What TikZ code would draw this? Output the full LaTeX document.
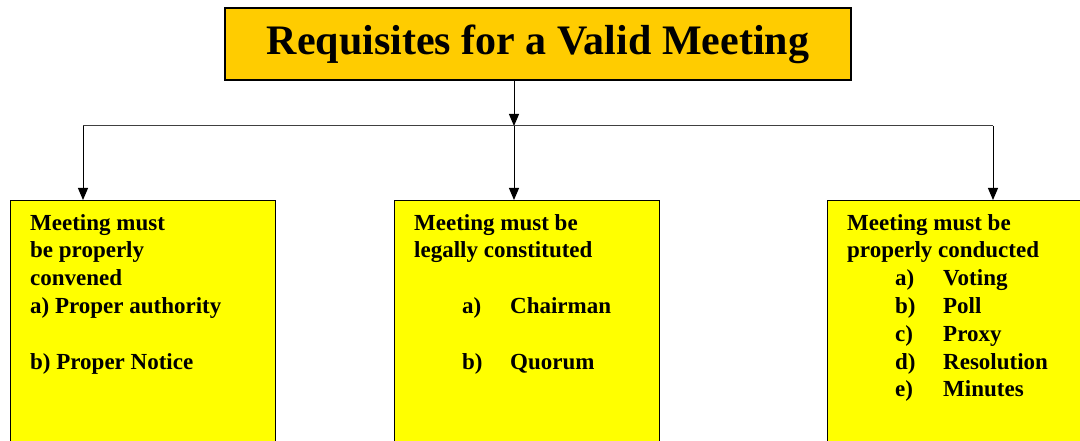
\documentclass[tikz,border=0pt]{standalone}
\usepackage{fontspec}
\setmainfont{Liberation Serif}
\usepackage{tikz}
\usetikzlibrary{positioning, arrows.meta}
\definecolor{titleGold}{HTML}{FFCC00}
\definecolor{boxYellow}{HTML}{FFFF00}
\newcommand{\mitem}[2]{\hspace*{48pt}\makebox[48pt][l]{#1}#2}

\begin{document}
\begin{tikzpicture}[x=1pt, y=-1pt,
    head/.style={draw, line width=1.2pt, fill=titleGold, minimum width=626pt, minimum height=72pt, inner sep=0pt, font=\fontsize{42}{48}\selectfont\bfseries},
    reqbox/.style={draw, line width=0.9pt, fill=boxYellow, minimum width=265pt, minimum height=260pt, inner sep=0pt, anchor=north west},
    txt/.style={align=left, inner sep=0pt, anchor=north west, font=\fontsize{23}{27.8}\selectfont\bfseries},
    arr/.style={-{Triangle[length=12pt, width=10pt]}, line width=1pt},
  ]
    \useasboundingbox (0,0) rectangle (1080,441);

    \node[head] (title) at (538,44) {Requisites for a Valid Meeting};

    \node[reqbox] (conv)    at (10,200)  {};
    \node[reqbox] (constit) at (394,200) {};
    \node[reqbox] (conduct) at (827,200) {};

    \coordinate (join)  at (514,126);
    \coordinate (joinL) at (83,126);
    \coordinate (joinR) at (993,126);

    \draw[arr] (title.south -| join) -- (join);
    \draw[line width=1pt, black!75] (joinL) -- (joinR);
    \draw[arr] (joinL) -- (joinL |- conv.north);
    \draw[arr] (join)  -- (join |- constit.north);
    \draw[arr] (joinR) -- (joinR |- conduct.north);

    \node[txt] (convT) at ([shift={(20,14)}]conv.north west)
      {Meeting must\\ be properly\\ convened\\ a) Proper authority\\[27.8pt] b) Proper Notice};
    \node[txt] (constitT) at ([shift={(20,14)}]constit.north west)
      {Meeting must be\\ legally constituted\\[27.8pt] \mitem{a)}{Chairman}\\[27.8pt] \mitem{b)}{Quorum}};
    \node[txt] (conductT) at ([shift={(20,14)}]conduct.north west)
      {Meeting must be\\ properly conducted\\ \mitem{a)}{Voting}\\ \mitem{b)}{Poll}\\ \mitem{c)}{Proxy}\\ \mitem{d)}{Resolution}\\ \mitem{e)}{Minutes}};
  \end{tikzpicture}
\end{document}
